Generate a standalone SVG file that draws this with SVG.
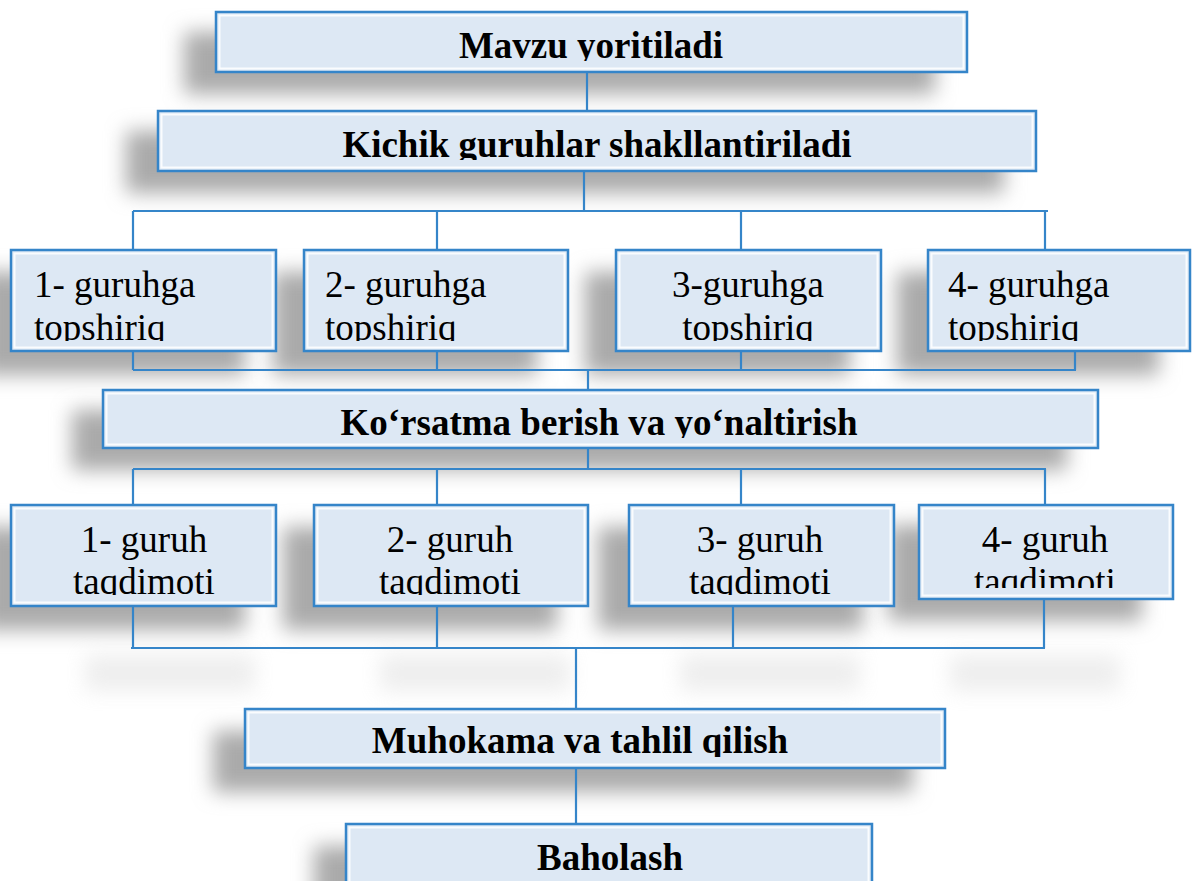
<svg xmlns="http://www.w3.org/2000/svg" width="1194" height="881" viewBox="0 0 1194 881">
<style>
.box{fill:#dde8f4;stroke:#3585c9;stroke-width:2.5}
.bev{fill:none;stroke:#ffffff;stroke-width:2;opacity:0.85}
.sh{fill:#aaaaaa;filter:url(#blur)}
.gh{fill:#c8c8c8;opacity:0.3;filter:url(#blur2)}
.con{fill:none;stroke:#3585c9;stroke-width:2.2}
.tb{font-family:"Liberation Serif","Times New Roman",serif;font-weight:bold;font-size:37px;fill:#000;text-anchor:middle}
.tr{font-family:"Liberation Serif","Times New Roman",serif;font-size:37px;fill:#000}
.c{text-anchor:middle}
</style>
<defs>
<filter id="blur" x="-20%" y="-80%" width="140%" height="260%"><feGaussianBlur stdDeviation="10"/></filter>
<filter id="blur2" x="-20%" y="-80%" width="140%" height="260%"><feGaussianBlur stdDeviation="10"/></filter>
<clipPath id="c1"><rect x="0" y="0" width="1194" height="61"/></clipPath>
<clipPath id="c2"><rect x="0" y="0" width="1194" height="160"/></clipPath>
<clipPath id="cr1"><rect x="0" y="0" width="1194" height="341"/></clipPath>
<clipPath id="c3"><rect x="0" y="0" width="1194" height="438"/></clipPath>
<clipPath id="cr2"><rect x="0" y="0" width="1194" height="595"/></clipPath>
<clipPath id="cr2d"><rect x="0" y="0" width="1194" height="588"/></clipPath>
<clipPath id="c4"><rect x="0" y="0" width="1194" height="757"/></clipPath>
</defs>
<rect width="1194" height="881" fill="#ffffff"/>
<g id="shadows">
<rect class="sh" x="184" y="32" width="751" height="62"/>
<rect class="sh" x="126" y="131" width="878" height="62"/>
<rect class="sh" x="-20" y="272" width="265" height="103"/>
<rect class="sh" x="273" y="272" width="264" height="103"/>
<rect class="sh" x="585" y="272" width="265" height="103"/>
<rect class="sh" x="897" y="272" width="262" height="103"/>
<rect class="sh" x="72" y="410" width="995" height="60"/>
<rect class="sh" x="-20" y="527" width="265" height="103"/>
<rect class="sh" x="283" y="527" width="274" height="103"/>
<rect class="sh" x="598" y="527" width="265" height="103"/>
<rect class="sh" x="888" y="525" width="254" height="96"/>
<rect class="gh" x="85" y="655" width="170" height="36"/>
<rect class="gh" x="380" y="655" width="190" height="36"/>
<rect class="gh" x="680" y="655" width="180" height="36"/>
<rect class="gh" x="950" y="655" width="170" height="36"/>
<rect class="sh" x="213" y="731" width="700" height="61"/>
<rect class="sh" x="314" y="846" width="526" height="80"/>
</g>
<g id="connectors">
<path class="con" d="M587 72V111"/>
<path class="con" d="M584 171V211"/>
<path class="con" d="M133 211H1048M133 211V250M437 211V250M741 211V250M1045 211V250"/>
<path class="con" d="M133 351V370M437 351V370M741 351V370M1075 351V370M133 370H1076"/>
<path class="con" d="M588 370V390"/>
<path class="con" d="M588 448V469"/>
<path class="con" d="M133 469H1046M133 469V505M437 469V505M741 469V505M1045 469V505"/>
<path class="con" d="M133 606V648M437 606V648M733 606V648M1044 599V648M131 648H1045"/>
<path class="con" d="M576 648V709"/>
<path class="con" d="M576 768V824"/>
</g>
<g id="n-mavzu">
<rect class="box" x="216" y="12" width="751" height="60"/>
<rect class="bev" x="219.5" y="15.5" width="744" height="53"/>
<text class="tb" x="591" y="58" clip-path="url(#c1)">Mavzu yoritiladi</text>
</g>
<g id="n-kichik">
<rect class="box" x="158" y="111" width="878" height="60"/>
<rect class="bev" x="161.5" y="114.5" width="871" height="53"/>
<text class="tb" x="597" y="157" clip-path="url(#c2)">Kichik guruhlar shakllantiriladi</text>
</g>
<g id="n-t1">
<rect class="box" x="11" y="250" width="265" height="101"/>
<rect class="bev" x="14.5" y="253.5" width="258" height="94"/>
<text class="tr" clip-path="url(#cr1)"><tspan x="34" y="297">1- guruhga</tspan><tspan x="34" y="340">topshiriq</tspan></text>
</g>
<g id="n-t2">
<rect class="box" x="304" y="250" width="264" height="101"/>
<rect class="bev" x="307.5" y="253.5" width="257" height="94"/>
<text class="tr" clip-path="url(#cr1)"><tspan x="325" y="297">2- guruhga</tspan><tspan x="325" y="340">topshiriq</tspan></text>
</g>
<g id="n-t3">
<rect class="box" x="616" y="250" width="265" height="101"/>
<rect class="bev" x="619.5" y="253.5" width="258" height="94"/>
<text class="tr c" clip-path="url(#cr1)"><tspan x="748" y="297">3-guruhga</tspan><tspan x="748" y="340">topshiriq</tspan></text>
</g>
<g id="n-t4">
<rect class="box" x="928" y="250" width="262" height="101"/>
<rect class="bev" x="931.5" y="253.5" width="255" height="94"/>
<text class="tr" clip-path="url(#cr1)"><tspan x="948" y="297">4- guruhga</tspan><tspan x="948" y="340">topshiriq</tspan></text>
</g>
<g id="n-korsatma">
<rect class="box" x="103" y="390" width="995" height="58"/>
<rect class="bev" x="106.5" y="393.5" width="988" height="51"/>
<text class="tb" x="599" y="435" clip-path="url(#c3)">Ko‘rsatma berish va yo‘naltirish</text>
</g>
<g id="n-p1">
<rect class="box" x="11" y="505" width="265" height="101"/>
<rect class="bev" x="14.5" y="508.5" width="258" height="94"/>
<text class="tr c" clip-path="url(#cr2)"><tspan x="144" y="552">1- guruh</tspan><tspan x="144" y="594">taqdimoti</tspan></text>
</g>
<g id="n-p2">
<rect class="box" x="314" y="505" width="274" height="101"/>
<rect class="bev" x="317.5" y="508.5" width="267" height="94"/>
<text class="tr c" clip-path="url(#cr2)"><tspan x="450" y="552">2- guruh</tspan><tspan x="450" y="594">taqdimoti</tspan></text>
</g>
<g id="n-p3">
<rect class="box" x="629" y="505" width="265" height="101"/>
<rect class="bev" x="632.5" y="508.5" width="258" height="94"/>
<text class="tr c" clip-path="url(#cr2)"><tspan x="760" y="552">3- guruh</tspan><tspan x="760" y="594">taqdimoti</tspan></text>
</g>
<g id="n-p4">
<rect class="box" x="919" y="505" width="254" height="94"/>
<rect class="bev" x="922.5" y="508.5" width="247" height="87"/>
<text class="tr c" clip-path="url(#cr2d)"><tspan x="1045" y="552">4- guruh</tspan><tspan x="1045" y="594">taqdimoti</tspan></text>
</g>
<g id="n-muhokama">
<rect class="box" x="245" y="709" width="700" height="59"/>
<rect class="bev" x="248.5" y="712.5" width="693" height="52"/>
<text class="tb" x="580" y="753" clip-path="url(#c4)">Muhokama va tahlil qilish</text>
</g>
<g id="n-baholash">
<rect class="box" x="346" y="824" width="526" height="80"/>
<rect class="bev" x="349.5" y="827.5" width="519" height="73"/>
<text class="tb" x="610" y="870">Baholash</text>
</g>
</svg>
